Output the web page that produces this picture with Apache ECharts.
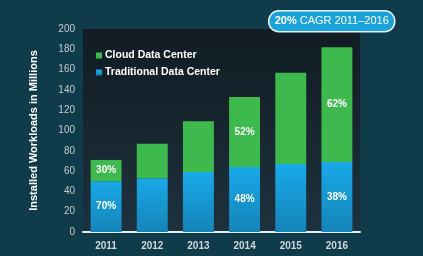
<!DOCTYPE html>
<html><head><meta charset="utf-8">
<script src="https://cdn.jsdelivr.net/npm/echarts@6/dist/echarts.min.js"></script>
<style>html,body{margin:0;padding:0;background:#0f3b4b;}#c{width:423px;height:256px;}</style>
</head><body><div id="c"></div>
<script>
const years = ['2011','2012','2013','2014','2015','2016'];
const traditional = [50, 53, 59, 64, 67, 69];
const cloud = [21, 34, 50, 69, 90, 113];
const cloudLabels = ['30%','','','52%','','62%'];
const tradLabels = ['70%','','','48%','','38%'];
const yTicks = [0,20,40,60,80,100,120,140,160,180,200];

const chart = echarts.init(document.getElementById('c'), null, {renderer:'canvas'});
const font = '"Liberation Sans", Arial, sans-serif';
chart.setOption({
  backgroundColor: '#0f3b4b',
  animation: false,
  grid: {left: 83, right: 63, top: 29, bottom: 24, show: true, borderWidth: 0,
    backgroundColor: new echarts.graphic.LinearGradient(0,0,0,1,[
      {offset:0,color:'#111c24'},{offset:0.5,color:'#18262f'},{offset:1,color:'#1c323e'}])},
  legend: {
    orient: 'vertical', left: 91, top: 45, itemWidth: 6, itemHeight: 6, itemGap: 6,
    icon: 'rect', data: ['Cloud Data Center','Traditional Data Center'],
    textStyle: {color: '#ffffff', fontWeight: 'bold', fontSize: 10.5, fontFamily: font, padding:[0,0,0,-2]}
  },
  xAxis: {
    type: 'category', data: years,
    axisLine: {lineStyle: {color: '#e6eef0', width: 2}},
    axisTick: {show: false},
    axisLabel: {color: '#d0d8dc', fontSize: 10, fontWeight: 'bold', fontFamily: font, margin: 9}
  },
  yAxis: {
    type: 'value', min: yTicks[0], max: yTicks[yTicks.length-1], interval: 20,
    name: 'Installed Workloads in Millions', nameLocation: 'middle', nameGap: 44,
    nameTextStyle: {color: '#ffffff', fontWeight: 'bold', fontSize: 11, fontFamily: font},
    axisLine: {show: false}, axisTick: {show: false}, splitLine: {show: false},
    axisLabel: {color: '#c4ccd0', fontSize: 10, fontFamily: font, margin: 8}
  },
  series: [
    {name: 'Traditional Data Center', type: 'bar', stack: 't', data: traditional, barWidth: '67%',
      itemStyle: {color: new echarts.graphic.LinearGradient(0,0,0,1,[
        {offset:0,color:'#19a9e8'},{offset:1,color:'#1584b8'}])},
      label: {show: true, position: 'inside', color: '#ffffff', fontWeight: 'bold', fontSize: 10, fontFamily: font,
        formatter: p => tradLabels[p.dataIndex]}},
    {name: 'Cloud Data Center', type: 'bar', stack: 't', data: cloud, barWidth: '67%',
      itemStyle: {color: '#3db94d'},
      label: {show: true, position: 'inside', color: '#ffffff', fontWeight: 'bold', fontSize: 10, fontFamily: font,
        formatter: p => cloudLabels[p.dataIndex]}}
  ],
  graphic: [{
    type: 'group', left: 268, top: 10,
    children: [
      {type: 'rect', shape: {x:0, y:0, width: 126, height: 21, r: 10},
        style: {fill: '#1aa3da', stroke: '#e8f6fb', lineWidth: 1.5}},
      {type: 'text', x: 63, y: 10.5,
        style: {text: '{b|20%} CAGR 2011–2016', align: 'center', verticalAlign: 'middle',
          fill: '#ffffff', fontSize: 11, fontFamily: font,
          rich: {b: {fontWeight: 'bold', fontSize: 11, fill: '#ffffff', fontFamily: font}}}}
    ]
  }]
});
</script></body></html>
